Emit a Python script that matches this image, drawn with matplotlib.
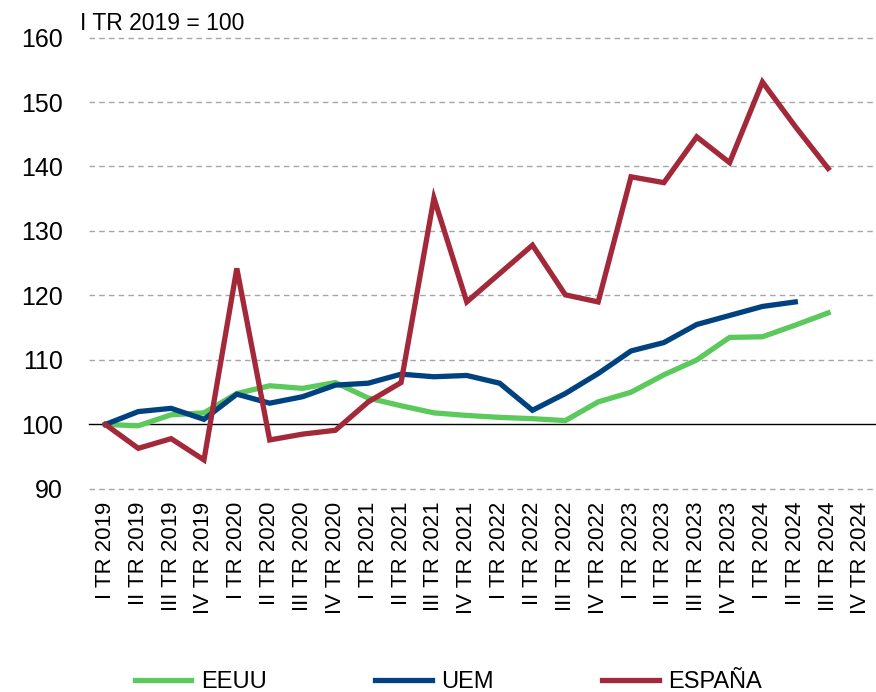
import matplotlib.pyplot as plt

plt.rcParams['font.family'] = ['Liberation Sans', 'DejaVu Sans']

# Trimestres del eje X
trimestres = []
for anio in range(2019, 2025):
    for q in ["I", "II", "III", "IV"]:
        trimestres.append(f"{q} TR {anio}")

# Índices (I TR 2019 = 100)
eeuu = [100.0, 99.8, 101.5, 101.8, 104.8, 106.0, 105.6, 106.5, 104.1, 102.9,
        101.8, 101.4, 101.1, 100.9, 100.6, 103.5, 105.0, 107.7, 110.0, 113.5,
        113.6, 115.4, 117.3]
uem = [100.0, 102.0, 102.5, 100.8, 104.7, 103.3, 104.3, 106.1, 106.4, 107.8,
       107.4, 107.6, 106.4, 102.2, 104.8, 107.9, 111.4, 112.7, 115.5, 116.9,
       118.3, 119.0]
espana = [100.0, 96.3, 97.8, 94.5, 124.2, 97.6, 98.5, 99.1, 103.5, 106.5,
          135.1, 119.0, 123.4, 127.8, 120.1, 119.0, 138.4, 137.5, 144.6, 140.6,
          153.1, 146.2, 139.7]

verde = "#5CC95C"
azul = "#00427F"
rojo = "#A32839"

fig = plt.figure(figsize=(8.76, 6.92), dpi=100)
ax = fig.add_axes([0.1016, 0.2934, 0.9000, 0.6524])

# Rejilla punteada y línea base en 100
for y in [90, 110, 120, 130, 140, 150, 160]:
    ax.axhline(y, xmax=1.02, color="#a6a6a6", lw=1.0, ls=(0, (4, 3)),
               zorder=1, clip_on=False)
ax.axhline(100, xmax=1.02, color="black", lw=1.0, zorder=1, clip_on=False)

ax.plot(range(len(eeuu)), eeuu, color=verde, lw=3.8, label="EEUU",
        solid_joinstyle="miter", zorder=3)
ax.plot(range(len(uem)), uem, color=azul, lw=3.8, label="UEM",
        solid_joinstyle="miter", zorder=4)
ax.plot(range(len(espana)), espana, color=rojo, lw=3.8, label="ESPAÑA",
        solid_joinstyle="miter", zorder=5)

ax.set_xlim(-0.5, len(trimestres) - 0.5)
ax.set_ylim(90, 160)
ax.set_yticks([90, 100, 110, 120, 130, 140, 150, 160])
ax.tick_params(axis="y", length=0, pad=19, labelsize=18)
ax.set_xticks(range(len(trimestres)))
ax.set_xticklabels(trimestres, rotation=90)
ax.tick_params(axis="x", length=0, pad=9, labelsize=16)
for s in ax.spines.values():
    s.set_visible(False)

fig.text(0.091, 0.957, "I TR 2019 = 100", fontsize=16.5, ha="left", va="baseline")

fig.legend(loc="center", bbox_to_anchor=(0.512, 0.014), ncol=3, frameon=False,
           fontsize=17, handlelength=2.4, handletextpad=0.4, columnspacing=4.6)

plt.savefig("out.png", dpi=100)
